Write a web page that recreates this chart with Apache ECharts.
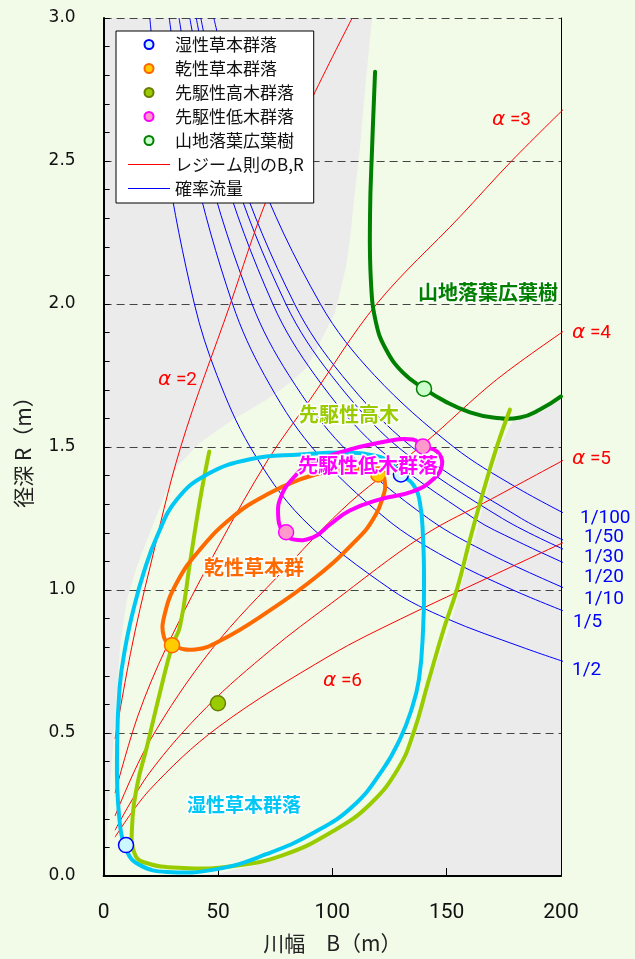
<!DOCTYPE html>
<html><head><meta charset="utf-8">
<script src="https://cdn.jsdelivr.net/npm/echarts@6/dist/echarts.min.js"></script>
<style>html,body{margin:0;padding:0;background:#f2fbe8;}#c{width:635px;height:959px;}</style>
</head><body><div id="c"></div>
<script>
const BG = '#f2fbe8';
// light-green (non-gray) region boundary, B (m) and R (m)
const blobB = [117.4,114.7,112.1,109.5,107.7,106.0,101.2,94.6,88.9,81.5,71.4,56.6,42.2,32.1,26.0,20.3,14.6,10.2,7.2,4.1,1.9,1.0,37.8,50.9,68.4,83.7,99.9,113.0,125.2,131.4,136.6,142.7,151.5,155.8,162.0,167.6,173.3,179.4,186.4,193.0,200,200];
const blobR = [3.0,2.784,2.546,2.365,2.225,2.131,1.970,1.865,1.778,1.725,1.666,1.596,1.516,1.432,1.317,1.202,1.083,0.968,0.803,0.454,0.224,0,0,0.010,0.042,0.084,0.147,0.227,0.321,0.391,0.496,0.681,0.873,1.002,1.177,1.341,1.502,1.600,1.607,1.630,1.677,3.0];

// regime lines (alpha = 2..6)
const alpha2 = [[5,0.48],[12.3,0.80],[20,1.07],[33.7,1.5],[55.4,2.0],[71.3,2.365],[90,2.70],[108.7,3.0]];
const alpha3 = [[5,0.29],[15,0.56],[27.5,0.80],[50,1.15],[72,1.457],[90.3,1.666],[119.4,2.0],[155.9,2.306],[178.4,2.5],[204.8,2.71]];
const alpha4 = [[5,0.21],[20,0.47],[47.3,0.793],[80,1.08],[107.7,1.306],[139.8,1.51],[171.9,1.736],[204.8,1.925]];
const alpha5 = [[5,0.16],[20,0.36],[45,0.59],[73.5,0.793],[99,0.95],[139.8,1.19],[170,1.32],[204.8,1.47]];
const alpha6 = [[5,0.136],[20,0.30],[50,0.52],[99,0.771],[129.7,0.898],[170,1.05],[204.8,1.18]];

// probability flow lines
const flow2   = [[20.2,3.0],[27.4,2.5],[39.7,2.0],[49.6,1.75],[64.1,1.5],[86.9,1.25],[126,1.0],[150,0.9],[183,0.8],[204.8,0.74]];
const flow5   = [[28.7,3.0],[38.9,2.5],[56.4,2.0],[70.4,1.75],[91.0,1.5],[123.4,1.25],[150,1.112],[179,1.0],[204.8,0.915]];
const flow10  = [[33.0,3.0],[44.7,2.5],[64.9,2.0],[81.1,1.75],[104.8,1.5],[142,1.25],[170,1.122],[204.8,0.995]];
const flow20  = [[37.7,3.0],[51.0,2.5],[74.0,2.0],[92.5,1.75],[119.5,1.5],[162,1.25],[180,1.174],[204.8,1.082]];
const flow30  = [[40.5,3.0],[54.9,2.5],[79.7,2.0],[99.6,1.75],[128.7,1.5],[174.4,1.25],[204.8,1.129]];
const flow50  = [[42.5,3.0],[57.5,2.5],[83.5,2.0],[104.3,1.75],[134.8,1.5],[182.7,1.25],[204.8,1.16]];
const flow100 = [[48.2,3.0],[65.4,2.5],[94.8,2.0],[118.5,1.75],[153.1,1.5],[180,1.361],[204.8,1.254]];

// community envelopes (closed loops listed without repeating the first point)
const wetHerb = [[130.0,1.404],[135.3,1.369],[138.3,1.306],[139.7,1.177],[140.1,1.037],[139.7,0.863],[137.9,0.688],[134.4,0.576],[129.6,0.479],[122.2,0.374],[109.1,0.245],[91.6,0.150],[71.4,0.077],[49.6,0.024],[27.7,0.014],[15.9,0.038],[10.2,0.087],[6.7,0.217],[5.9,0.454],[7.0,0.66],[9.5,0.80],[13.0,0.93],[17.5,1.06],[23.5,1.19],[32.1,1.317],[45.2,1.404],[64.0,1.457],[85.9,1.474],[107.7,1.481],[118.7,1.470],[125.3,1.446]];
const dryHerb = [[29.9,0.807],[40.0,0.792],[52.2,0.828],[71.4,0.922],[93.3,1.048],[110.8,1.177],[117.8,1.247],[122.2,1.327],[123.0,1.376],[120.9,1.411],[112.1,1.422],[99.0,1.415],[85.9,1.387],[71.4,1.334],[56.6,1.257],[42.2,1.142],[32.1,1.027],[26.5,0.908],[26.4,0.835]];
const shrub = [[139.6,1.502],[145.8,1.484],[148.0,1.439],[144.1,1.387],[135.3,1.345],[120.9,1.317],[107.7,1.278],[99.0,1.229],[91.6,1.184],[82.8,1.177],[78.4,1.202],[76.3,1.264],[77.6,1.327],[82.4,1.387],[89.4,1.436],[103.4,1.481],[120.9,1.516],[135.3,1.526]];
const pioneerTree = [[46.2,1.484],[42.2,1.317],[37.8,1.097],[33.4,0.873],[29.9,0.803],[24.7,0.643],[19.0,0.454],[14.6,0.314],[12.4,0.164],[13.3,0.084],[17.2,0.049],[34.8,0.028],[56.7,0.035],[78.5,0.073],[100.4,0.157],[116.5,0.251],[128.7,0.374],[135.5,0.50],[142.0,0.68],[149.0,0.87],[154.5,1.002],[160.2,1.177],[165.9,1.341],[172.0,1.502],[177.7,1.631]];
const montane = [[118.7,2.812],[117.4,2.546],[116.5,2.312],[116.9,2.078],[119.1,1.935],[123.5,1.841],[130.9,1.760],[140.1,1.704],[150.1,1.656],[160.2,1.621],[170.3,1.603],[182.1,1.603],[190.8,1.631],[200,1.677]];

// survey points
const ptWet = [[130.0,1.404],[9.8,0.108]];
const ptDry = [[29.9,0.807],[120.1,1.404]];
const ptTree = [[50.0,0.604]];
const ptShrub = [[79.8,1.202],[139.6,1.502]];
const ptMont = [[140.1,1.704]];

const chart = echarts.init(document.getElementById('c'), null, {renderer:'canvas'});

function curve(data, color, width, z, name) {
  const s = {type:'line', data:data, smooth:0.35, symbol:'none', showSymbol:false,
    lineStyle:{color:color, width:width}, itemStyle:{color:color}, clip:false, z:z, silent:true};
  if (name) s.name = name;
  return s;
}
function envelope(data, color, closed) {
  return {type:'custom', z:4, silent:true, clip:false, data:[0],
    renderItem: function(params, api){
      const p = data.map(function(d){ return api.coord(d); });
      return {type: closed ? 'polygon' : 'polyline', shape:{points:p, smooth:0.45},
        style:{stroke:color, lineWidth:4, fill:'none', lineJoin:'round', lineCap:'round'}};
    }};
}
function pts(name, data, fill, border) {
  return {type:'scatter', name:name, data:data, symbol:'circle', symbolSize:15, z:6, silent:true,
    itemStyle:{color:fill, borderColor:border, borderWidth:1.5, opacity:1}};
}

const REG = 'レジーム則のB,R', FLOW = '確率流量';
const LINE_ICON = 'path://M0,0L42,0L42,1.2L0,1.2Z';
const series = [
  {type:'custom', z:1, silent:true, clip:true, data:[0],
   renderItem: function(params, api){
     const p = blobB.map(function(b,i){ return api.coord([b, blobR[i]]); });
     return {type:'polygon', shape:{points:p}, style:{fill:BG, stroke:null}};
   }},
  curve(flow2,'#0000ff',1,3,FLOW), curve(flow5,'#0000ff',1,3,FLOW), curve(flow10,'#0000ff',1,3,FLOW),
  curve(flow20,'#0000ff',1,3,FLOW), curve(flow30,'#0000ff',1,3,FLOW), curve(flow50,'#0000ff',1,3,FLOW),
  curve(flow100,'#0000ff',1,3,FLOW),
  curve(alpha2,'#ff0000',1,3,REG), curve(alpha3,'#ff0000',1,3,REG), curve(alpha4,'#ff0000',1,3,REG),
  curve(alpha5,'#ff0000',1,3,REG), curve(alpha6,'#ff0000',1,3,REG),
  envelope(montane,'#008000',false), envelope(pioneerTree,'#99cc00',false), envelope(wetHerb,'#00c8f5',true),
  envelope(dryHerb,'#ff6a00',true), envelope(shrub,'#ff00ff',true),
  pts('湿性草本群落', ptWet, '#ccf7ff', '#0000ff'),
  pts('乾性草本群落', ptDry, '#ffcc00', '#ff6600'),
  pts('先駆性高木群落', ptTree, '#99cc00', '#6b7d00'),
  pts('先駆性低木群落', ptShrub, '#ff99cc', '#ff00ff'),
  pts('山地落葉広葉樹', ptMont, '#ccffcc', '#008000')
];

function lbl(x, y, text, color, size, bold) {
  return {type:'text', x:x, y:y, z:8, silent:true,
    style:{text:text, fill:color, font:(bold?'bold ':'')+size+'px "Noto Sans CJK JP"',
      align:'center', verticalAlign:'middle', stroke:bold?'#ffffff':null, lineWidth:bold?3:0}};
}
function alphaLbl(x, y, n) {
  return {type:'text', x:x, y:y, z:8, silent:true,
    style:{text:'{a|α}{b| =' + n + '}', verticalAlign:'middle', align:'left',
      rich:{a:{fill:'#ff0000', fontSize:20, fontStyle:'italic', fontFamily:'DejaVu Sans'},
            b:{fill:'#ff0000', fontSize:19, fontFamily:'Roboto'}}}};
}
function flowLbl(x, y, t) {
  return {type:'text', x:x, y:y, z:8, silent:true,
    style:{text:t, fill:'#0000ff', font:'19px Roboto', align:'left', verticalAlign:'middle'}};
}

chart.setOption({
  backgroundColor: BG,
  animation: false,
  grid: {left:103.6, right:74, top:18, bottom:82, show:true, backgroundColor:'#ebebeb', borderWidth:0},
  legend: {
    orient:'vertical', left:116, top:31, z:10,
    backgroundColor:'#ffffff', borderColor:'#000000', borderWidth:1,
    padding:[5,10,6,12], itemWidth:42, itemHeight:9, itemGap:7,
    textStyle:{fontSize:17, lineHeight:17, fontFamily:'"Noto Sans CJK JP"', color:'#111'},
    data:['湿性草本群落','乾性草本群落','先駆性高木群落','先駆性低木群落','山地落葉広葉樹',
      {name:REG, icon:LINE_ICON}, {name:FLOW, icon:LINE_ICON}]
  },
  xAxis: {
    type:'value', min:0, max:200, interval:50, z:2,
    axisLine:{lineStyle:{color:'#000', width:2}},
    axisTick:{inside:true, length:8, lineStyle:{color:'#000'}},
    axisLabel:{margin:26, fontSize:21, fontFamily:'Roboto', color:'#111'},
    splitLine:{show:false},
    name:'川幅　B（m）', nameLocation:'middle', nameGap:57,
    nameTextStyle:{fontSize:21, fontFamily:'"Noto Sans CJK JP"', color:'#222'}
  },
  yAxis: [{
    type:'value', min:0, max:3, interval:0.5, z:2,
    axisLine:{show:true, onZero:false, lineStyle:{color:'#000', width:2}},
    axisTick:{inside:true, length:6, lineStyle:{color:'#000'}},
    minorTick:{show:true, splitNumber:5, length:6, lineStyle:{color:'#000'}},
    axisLabel:{margin:28, fontSize:17, fontFamily:'DejaVu Sans', color:'#111', padding:[5,0,0,0],
      formatter:function(v){return v.toFixed(1);}},
    splitLine:{show:true, lineStyle:{color:'#444', width:1, type:[8,5]}},
    name:'径深 R（m）', nameLocation:'middle', nameGap:70, nameRotate:90,
    nameTextStyle:{fontSize:21, fontFamily:'"Noto Sans CJK JP"', color:'#222'}
  },{
    type:'value', min:0, max:3, position:'right', z:2,
    axisLine:{show:true, onZero:false, lineStyle:{color:'#000', width:1}},
    axisTick:{show:false}, axisLabel:{show:false}, splitLine:{show:false}
  }],
  series: series,
  graphic: [
    lbl(488,292,'山地落葉広葉樹','#008000',20,true),
    lbl(349,414,'先駆性高木','#99cc00',20,true),
    lbl(368,465,'先駆性低木群落','#ff00ff',20,true),
    lbl(254,567,'乾性草本群','#ff6a00',20,true),
    lbl(244,805,'湿性草本群落','#00c8f5',19,true),
    alphaLbl(158,380,2), alphaLbl(492,120,3), alphaLbl(572,333,4), alphaLbl(572,459,5), alphaLbl(323,681,6),
    flowLbl(580,518,'1/100'), flowLbl(584,537,'1/50'), flowLbl(584,557,'1/30'), flowLbl(584,577,'1/20'),
    flowLbl(584,599,'1/10'), flowLbl(573,622,'1/5'), flowLbl(572,670,'1/2')
  ]
});
</script></body></html>
